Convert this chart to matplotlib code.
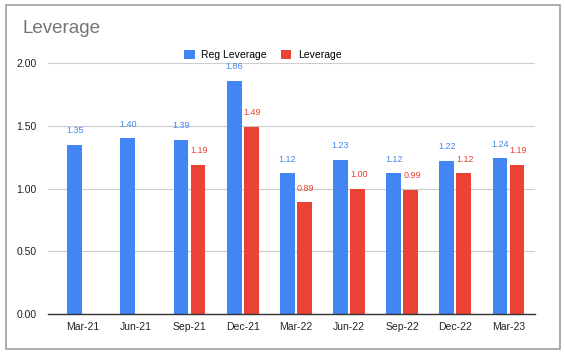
import numpy as np
import matplotlib
matplotlib.use("Agg")
import matplotlib.pyplot as plt
from matplotlib.patches import Rectangle

plt.rcParams['font.family'] = ['Liberation Sans', 'DejaVu Sans']

quarters = ["Mar-21", "Jun-21", "Sep-21", "Dec-21", "Mar-22", "Jun-22", "Sep-22", "Dec-22", "Mar-23"]
reg_leverage = [1.35, 1.40, 1.39, 1.86, 1.12, 1.23, 1.12, 1.22, 1.24]
leverage = [np.nan, np.nan, 1.19, 1.49, 0.89, 1.00, 0.99, 1.12, 1.19]
y_ticks = [0.0, 0.5, 1.0, 1.5, 2.0]

BLUE = "#4285F4"
RED = "#EA4335"

fig = plt.figure(figsize=(5.65, 3.53), dpi=100)
fig.patches.append(Rectangle((0.011, 0.012), 0.98, 0.975, transform=fig.transFigure,
                             fill=False, edgecolor="#9e9e9e", linewidth=1.2))

ax = fig.add_axes([0.085, 0.1105, 0.862, 0.711])
x = np.arange(len(quarters))
w = 0.28
gap = 0.02

b1 = ax.bar(x - w / 2 - gap, reg_leverage, w, color=BLUE, label="Reg Leverage", zorder=3)
b2 = ax.bar(x + w / 2 + gap, leverage, w, color=RED, label="Leverage", zorder=3)

# value labels above each bar
for xi, v in zip(x, reg_leverage):
    ax.annotate(f"{v:.2f}", (xi - w / 2 - gap, v), xytext=(0, 7), textcoords="offset points",
                ha="center", va="bottom", fontsize=6.5, color=BLUE, clip_on=False)
for xi, v in zip(x, leverage):
    if np.isnan(v):
        continue
    ax.annotate(f"{v:.2f}", (xi + w / 2 + gap, v), xytext=(1, 7), textcoords="offset points",
                ha="center", va="bottom", fontsize=6.5, color=RED, clip_on=False)

ax.set_xlim(-0.66, 8.5)
ax.set_ylim(0, 2.0)
ax.set_yticks(y_ticks)
ax.set_yticklabels([f"{t:.2f}" for t in y_ticks])
ax.set_xticks(x)
ax.set_xticklabels(quarters)
ax.tick_params(axis="both", length=0, labelsize=7.5, colors="#222222")
ax.tick_params(axis="x", pad=6)
ax.tick_params(axis="y", pad=8)
ax.grid(axis="y", color="#cccccc", linewidth=0.8, zorder=0)
for s in ["top", "right", "left"]:
    ax.spines[s].set_visible(False)
ax.spines["bottom"].set_color("#333333")
ax.spines["bottom"].set_linewidth(1.0)
ax.spines["bottom"].set_zorder(4)

fig.text(0.039, 0.92, "Leverage", fontsize=13.5, color="#757575", va="center", ha="left")
fig.legend(handles=[b1, b2], loc="center", bbox_to_anchor=(0.465, 0.845), ncol=2, frameon=False,
           fontsize=7.5, handlelength=1.0, handleheight=1.0, handletextpad=0.6, columnspacing=1.4)

fig.savefig("out.png", dpi=100)
